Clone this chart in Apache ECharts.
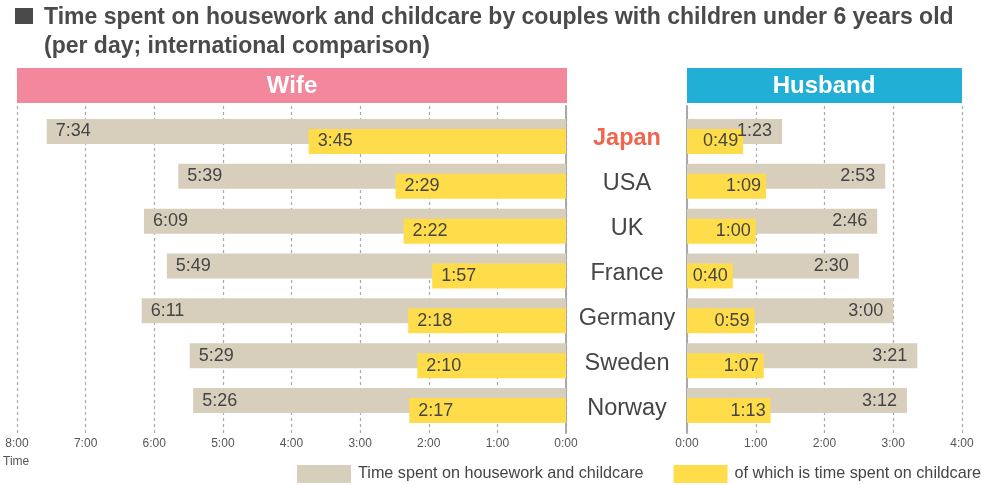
<!DOCTYPE html>
<html><head><meta charset="utf-8">
<script src="https://cdn.jsdelivr.net/npm/echarts@6/dist/echarts.min.js"></script>
<style>html,body{margin:0;padding:0;background:#fff}#c{width:982px;height:485px}</style>
</head><body><div id="c"></div>
<script>
const countries = ['Japan', 'USA', 'UK', 'France', 'Germany', 'Sweden', 'Norway'];
const wifeTotal = ['7:34', '5:39', '6:09', '5:49', '6:11', '5:29', '5:26'];
const wifeChildcare = ['3:45', '2:29', '2:22', '1:57', '2:18', '2:10', '2:17'];
const husbandTotal = ['1:23', '2:53', '2:46', '2:30', '3:00', '3:21', '3:12'];
const husbandChildcare = ['0:49', '1:09', '1:00', '0:40', '0:59', '1:07', '1:13'];
const tickLabels = ['0:00', '1:00', '2:00', '3:00', '4:00', '5:00', '6:00', '7:00', '8:00'];
const seriesNames = ['Time spent on housework and childcare', 'of which is time spent on childcare'];
const titleLines = ['Time spent on housework and childcare by couples with children under 6 years old', '(per day; international comparison)'];

const toMin = s => { const [h, m] = s.split(':').map(Number); return h * 60 + m; };
const FONT = 'Liberation Sans, Arial, sans-serif';
const TXT = '#454545';
const GRAY = '#d7cebc';
const YEL = '#ffdd4a';
const tickFmt = v => tickLabels[Math.round(v / 60)];

const chart = echarts.init(document.getElementById('c'));
const barLabel = (arr, pos, dist) => ({
  show: true, position: pos, distance: dist, color: TXT, fontSize: 18, fontFamily: FONT,
  formatter: p => arr[p.dataIndex]
});
const BARS = { top: 114, height: 314 };
const FRAME = { top: 106, height: 327 };
const option = {
  animation: false,
  textStyle: { fontFamily: FONT },
  title: {
    text: titleLines.join('\n'), left: 44, top: 3, padding: 0,
    textStyle: { fontFamily: FONT, fontWeight: 'bold', fontSize: 23, color: '#4a4a4a', lineHeight: 29 }
  },
  graphic: [
    { type: 'rect', shape: { x: 15, y: 8, width: 18, height: 16 }, style: { fill: '#4a4a4a' } },
    { type: 'rect', shape: { x: 17, y: 68, width: 550, height: 35 }, style: { fill: '#f3879b' } },
    { type: 'text', x: 292, y: 86, style: { text: 'Wife', fill: '#fff', font: 'bold 24px ' + FONT, align: 'center', verticalAlign: 'middle' } },
    { type: 'rect', shape: { x: 687, y: 68, width: 275, height: 35 }, style: { fill: '#22afd5' } },
    { type: 'text', x: 824, y: 86, style: { text: 'Husband', fill: '#fff', font: 'bold 24px ' + FONT, align: 'center', verticalAlign: 'middle' } },
    { type: 'text', x: 3, y: 462, style: { text: 'Time', fill: '#555', font: '12px ' + FONT, verticalAlign: 'middle' } }
  ],
  legend: {
    left: 297, top: 465, padding: 0, itemWidth: 54, itemHeight: 18, itemGap: 30, icon: 'rect',
    textStyle: { fontSize: 16.2, color: TXT, fontFamily: FONT, padding: [2, 0, 0, 2] },
    data: seriesNames
  },
  grid: [
    { left: 17, width: 549, top: BARS.top, height: BARS.height },
    { left: 687, width: 275, top: BARS.top, height: BARS.height },
    { left: 17, width: 549, top: FRAME.top, height: FRAME.height },
    { left: 687, width: 275, top: FRAME.top, height: FRAME.height }
  ],
  xAxis: [
    { gridIndex: 0, type: 'value', min: 0, max: 480, inverse: true, show: false },
    { gridIndex: 1, type: 'value', min: 0, max: 240, show: false },
    { gridIndex: 2, type: 'value', min: 0, max: 480, interval: 60, inverse: true,
      axisLine: { show: false }, axisTick: { show: false },
      axisLabel: { formatter: tickFmt, color: '#555', fontSize: 12, margin: 5, fontFamily: FONT },
      splitLine: { show: true, lineStyle: { color: '#aaa', type: [3, 3], width: 1.2 } } },
    { gridIndex: 3, type: 'value', min: 0, max: 240, interval: 60,
      axisLine: { show: false }, axisTick: { show: false },
      axisLabel: { formatter: tickFmt, color: '#555', fontSize: 12, margin: 5, fontFamily: FONT },
      splitLine: { show: true, lineStyle: { color: '#aaa', type: [3, 3], width: 1.2 } } }
  ],
  yAxis: [
    { gridIndex: 0, type: 'category', data: countries, inverse: true, show: false },
    { gridIndex: 1, type: 'category', data: countries, inverse: true,
      axisLine: { show: false }, axisTick: { show: false }, splitLine: { show: false },
      axisLabel: {
        margin: 60, align: 'center', fontSize: 23.5, color: TXT, fontFamily: FONT, padding: [5, 0, 0, 0],
        formatter: (v, i) => i === 0 ? '{jp|' + v + '}' : v,
        rich: { jp: { fontSize: 23.5, fontWeight: 'bold', color: '#f0664e', fontFamily: FONT } }
      } },
    { gridIndex: 2, type: 'value', min: 0, max: 1, position: 'right',
      axisLine: { show: true, lineStyle: { color: '#a9a9a9', width: 2 } },
      axisTick: { show: false }, axisLabel: { show: false }, splitLine: { show: false } },
    { gridIndex: 3, type: 'value', min: 0, max: 1, position: 'left',
      axisLine: { show: true, lineStyle: { color: '#a9a9a9', width: 2 } },
      axisTick: { show: false }, axisLabel: { show: false }, splitLine: { show: false } }
  ],
  series: [
    { name: seriesNames[0], type: 'bar', xAxisIndex: 0, yAxisIndex: 0, barWidth: 25, barGap: '-60%',
      itemStyle: { color: GRAY }, data: wifeTotal.map(toMin), label: barLabel(wifeTotal, 'insideLeft', 9) },
    { name: seriesNames[1], type: 'bar', xAxisIndex: 0, yAxisIndex: 0, barWidth: 25, barGap: '-60%',
      itemStyle: { color: YEL }, data: wifeChildcare.map(toMin), label: barLabel(wifeChildcare, 'insideLeft', 9) },
    { name: seriesNames[0], type: 'bar', xAxisIndex: 1, yAxisIndex: 1, barWidth: 25, barGap: '-60%',
      itemStyle: { color: GRAY }, data: husbandTotal.map(toMin), label: barLabel(husbandTotal, 'insideRight', 10) },
    { name: seriesNames[1], type: 'bar', xAxisIndex: 1, yAxisIndex: 1, barWidth: 25, barGap: '-60%',
      itemStyle: { color: YEL }, data: husbandChildcare.map(toMin), label: barLabel(husbandChildcare, 'insideRight', 5) }
  ]
};
chart.setOption(option);
</script></body></html>
